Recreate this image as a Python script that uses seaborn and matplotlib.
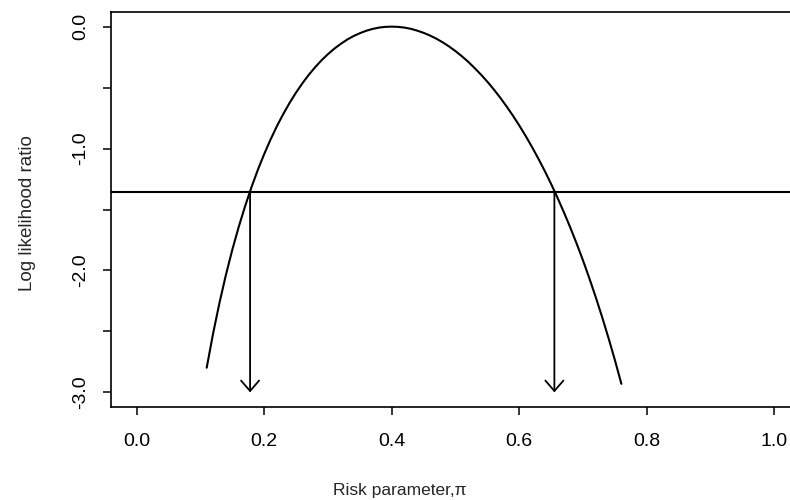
import matplotlib
matplotlib.use("Agg")
import matplotlib.pyplot as plt
import seaborn as sns
import pandas as pd

# Risk parameter values (x) and log likelihood ratio (y)
pi_values = [0.11, 0.12, 0.13, 0.14, 0.15, 0.16, 0.17, 0.18, 0.19, 0.20,
             0.21, 0.22, 0.23, 0.24, 0.25, 0.26, 0.27, 0.28, 0.29, 0.30,
             0.31, 0.32, 0.33, 0.34, 0.35, 0.36, 0.37, 0.38, 0.39, 0.40,
             0.41, 0.42, 0.43, 0.44, 0.45, 0.46, 0.47, 0.48, 0.49, 0.50,
             0.51, 0.52, 0.53, 0.54, 0.55, 0.56, 0.57, 0.58, 0.59, 0.60,
             0.61, 0.62, 0.63, 0.64, 0.65, 0.66, 0.67, 0.68, 0.69, 0.70,
             0.71, 0.72, 0.73, 0.74, 0.75, 0.76]
log_lr = [-2.798, -2.518, -2.266, -2.039, -1.833, -1.646, -1.476, -1.320, -1.177, -1.047,
          -0.927, -0.817, -0.717, -0.625, -0.541, -0.465, -0.395, -0.333, -0.276, -0.226,
          -0.181, -0.142, -0.107, -0.078, -0.054, -0.034, -0.019, -0.008, -0.002, 0.000,
          -0.002, -0.008, -0.018, -0.033, -0.051, -0.073, -0.099, -0.129, -0.163, -0.201,
          -0.243, -0.289, -0.340, -0.394, -0.452, -0.515, -0.582, -0.654, -0.730, -0.811,
          -0.897, -0.988, -1.084, -1.185, -1.292, -1.405, -1.524, -1.649, -1.781, -1.920,
          -2.067, -2.222, -2.385, -2.557, -2.738, -2.930]

cutoff = -1.353                 # horizontal reference line
interval_limits = [0.178, 0.655]  # arrow positions
arrow_bottom = -3.0

x_ticks = [0.0, 0.2, 0.4, 0.6, 0.8, 1.0]
x_tick_labels = ["0.0", "0.2", "0.4", "0.6", "0.8", "1.0"]
y_ticks = [0.0, -0.5, -1.0, -1.5, -2.0, -2.5, -3.0]
y_tick_labels = ["0.0", "", "-1.0", "", "-2.0", "", "-3.0"]

sns.set_style("ticks")
plt.rcParams["font.family"] = ["Liberation Sans", "DejaVu Sans"]

fig = plt.figure(figsize=(7.9, 5.0), dpi=100)
# axes extends past the right edge, like the cropped original
ax = fig.add_axes([111 / 790, 93 / 500, 689 / 790, 395 / 500])

df = pd.DataFrame({"pi": pi_values, "llr": log_lr})
sns.lineplot(data=df, x="pi", y="llr", color="black", linewidth=1.5, ax=ax)

ax.axhline(cutoff, color="black", linewidth=1.5)
for xv in interval_limits:
    ax.annotate("", xy=(xv, arrow_bottom), xytext=(xv, cutoff),
                arrowprops=dict(arrowstyle="->,head_length=7.5,head_width=6.5",
                                mutation_scale=1, color="black", lw=1.3,
                                shrinkA=0, shrinkB=0))

ax.set_xlim(-0.04, 1.04)
ax.set_ylim(-3.12, 0.12)
ax.set_xticks(x_ticks)
ax.set_xticklabels(x_tick_labels)
ax.set_yticks(y_ticks)
ax.set_yticklabels(y_tick_labels, rotation=90, va="center")

ax.tick_params(axis="both", direction="out", length=6, width=1.1,
               labelsize=14, colors="black")
ax.tick_params(axis="x", pad=13)
ax.tick_params(axis="y", pad=10)

for side in ["left", "bottom", "top"]:
    ax.spines[side].set_visible(True)
    ax.spines[side].set_linewidth(1.2)
    ax.spines[side].set_color("black")
ax.spines["right"].set_visible(False)

ax.set_xlabel("Risk parameter,\u03c0", fontsize=12.5)
ax.set_ylabel("Log likelihood ratio", fontsize=13.5)
ax.xaxis.set_label_coords((400 - 111) / 689, (407 - 490) / 395)
ax.xaxis.label.set_va("center")
ax.yaxis.set_label_coords((28 - 111) / 689, (407 - 213) / 395)
ax.yaxis.label.set_va("center")

fig.savefig("out.png", dpi=100)
